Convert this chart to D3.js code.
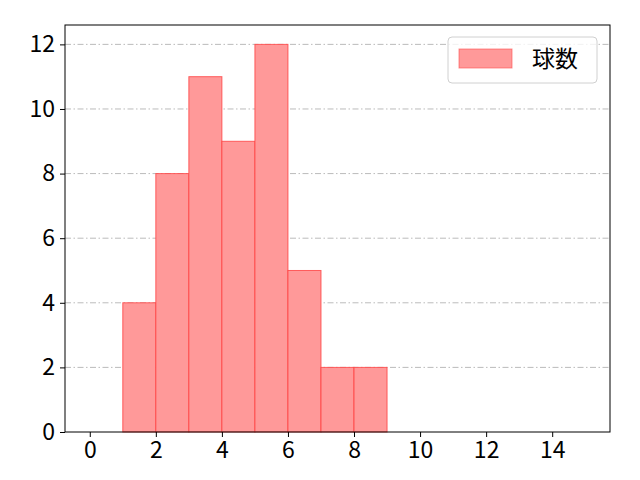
<!DOCTYPE html>
<html>
<head>
<meta charset="utf-8">
<script src="https://cdn.jsdelivr.net/npm/d3@7"></script>
<style>
  body { margin: 0; background: #fff; }
  text { font-family: "Noto Sans CJK JP", "DejaVu Sans", sans-serif; }
</style>
</head>
<body>
<svg></svg>
<script>
const binStarts = [1, 2, 3, 4, 5, 6, 7, 8];
const counts = [4, 8, 11, 9, 12, 5, 2, 2];
const xTicks = [0, 2, 4, 6, 8, 10, 12, 14];
const yTicks = [0, 2, 4, 6, 8, 10, 12];
const seriesName = "球数";

const width = 640, height = 480;
const margin = {top: 25, right: 30, bottom: 48, left: 65};
const svg = d3.select("svg").attr("width", width).attr("height", height);

const x = d3.scaleLinear().domain([-0.75, 15.75]).range([margin.left, width - margin.right]);
const y = d3.scaleLinear().domain([0, 12.6]).range([height - margin.bottom, margin.top]);

// grid
svg.append("g")
  .selectAll("line")
  .data(yTicks.filter(d => d > 0))
  .enter()
  .append("line")
  .attr("x1", margin.left).attr("x2", width - margin.right)
  .attr("y1", d => y(d)).attr("y2", d => y(d))
  .attr("stroke", "#aaaaaa")
  .attr("stroke-width", 0.8)
  .attr("stroke-dasharray", "6,2.5,1.5,2.5");

// bars
svg.append("g")
  .selectAll("rect")
  .data(binStarts)
  .enter()
  .append("rect")
  .attr("x", (d) => x(d))
  .attr("y", (d, i) => y(counts[i]))
  .attr("width", d => x(d + 1) - x(d))
  .attr("height", (d, i) => y(0) - y(counts[i]))
  .attr("fill", "#ff9999")
  .attr("stroke", "#ff4040")
  .attr("stroke-opacity", 0.8)
  .attr("stroke-width", 1);

// axes
let xAxis = svg.append("g")
  .attr("transform", `translate(0,${height - margin.bottom})`)
  .call(d3.axisBottom(x).tickValues(xTicks).tickSize(5).tickPadding(5));
let yAxis = svg.append("g")
  .attr("transform", `translate(${margin.left},0)`)
  .call(d3.axisLeft(y).tickValues(yTicks).tickSize(5).tickPadding(5));
[xAxis, yAxis].forEach(a => {
  a.select(".domain").remove();
  a.selectAll("line").attr("stroke", "#000").attr("stroke-width", 1);
  a.selectAll("text").style("font-size", "23px").attr("fill", "#000");
});

// frame
svg.append("rect")
  .attr("x", margin.left).attr("y", margin.top)
  .attr("width", width - margin.left - margin.right)
  .attr("height", height - margin.top - margin.bottom)
  .attr("fill", "none").attr("stroke", "#000").attr("stroke-width", 1);

// legend
let legend = svg.append("g").attr("transform", "translate(448,37)");
legend.append("rect")
  .attr("width", 149).attr("height", 46).attr("rx", 4)
  .attr("fill", "#fff").attr("fill-opacity", 0.8)
  .attr("stroke", "#d0d0d0");
legend.append("rect")
  .attr("x", 11).attr("y", 12).attr("width", 53).attr("height", 19)
  .attr("fill", "#ff9999").attr("stroke", "#ff4d4d").attr("stroke-opacity", 0.6);
legend.append("text")
  .attr("x", 84).attr("y", 30)
  .style("font-size", "23px")
  .text(seriesName);
</script>
</body>
</html>
